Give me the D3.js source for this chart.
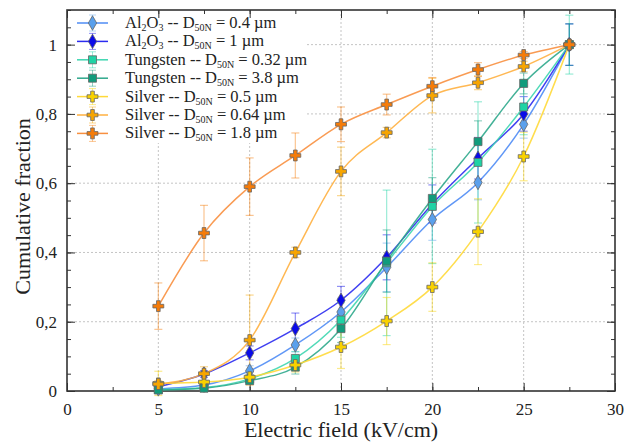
<!DOCTYPE html>
<html>
<head>
<meta charset="utf-8">
<script src="https://cdn.jsdelivr.net/npm/d3@7"></script>
<style>
  body { margin: 0; background: #fff; }
</style>
</head>
<body>
<div id="chart"></div>
<script>
// electric field steps (kV/cm)
var fields = [5, 7.5, 10, 12.5, 15, 17.5, 20, 22.5, 25, 27.5]

// cumulative fractions
var al04  = [0.006, 0.017, 0.058, 0.133, 0.228, 0.357, 0.495, 0.602, 0.770, 1]
var al1   = [0.012, 0.049, 0.110, 0.180, 0.262, 0.386, 0.540, 0.672, 0.800, 1]
var w032  = [0.004, 0.010, 0.035, 0.094, 0.205, 0.370, 0.533, 0.660, 0.820, 1]
var w38   = [0.003, 0.008, 0.030, 0.069, 0.180, 0.375, 0.556, 0.720, 0.888, 1]
var ag05  = [0.022, 0.026, 0.040, 0.075, 0.127, 0.202, 0.300, 0.460, 0.677, 1]
var ag064 = [0.020, 0.050, 0.147, 0.400, 0.634, 0.746, 0.853, 0.890, 0.937, 1]
var ag18  = [0.245, 0.456, 0.590, 0.680, 0.770, 0.827, 0.880, 0.928, 0.970, 1]

// error bar half widths
var al04Err  = [0.005, 0.010, 0.015, 0.020, 0.040, 0.070, 0.060, 0.050, 0.040, 0.060]
var al1Err   = [0.005, 0.010, 0.020, 0.045, 0.040, 0.065, 0.055, 0.060, 0.050, 0.060]
var w032Err  = [0.005, 0.005, 0.010, 0.020, 0.050, 0.210, 0.165, 0.175, 0.080, 0.085]
var w38Err   = [0.005, 0.005, 0.010, 0.020, 0.040, 0.090, 0.060, 0.060, 0.030, 0.060]
var ag05Err  = [0.035, 0.020, 0.015, 0.020, 0.062, 0.068, 0.070, 0.095, 0.070, 0.000]
var ag064Err = [0.010, 0.020, 0.130, 0.015, 0.070, 0.015, 0.050, 0.020, 0.015, 0.000]
var ag18Err  = [0.067, 0.080, 0.083, 0.065, 0.050, 0.030, 0.025, 0.020, 0.010, 0.000]

var names = [
  ["Al", "2", "O", "3", " -- D", "50N", " = 0.4 µm"],
  ["Al", "2", "O", "3", " -- D", "50N", " = 1 µm"],
  ["Tungsten -- D", "50N", " = 0.32 µm"],
  ["Tungsten -- D", "50N", " = 3.8 µm"],
  ["Silver -- D", "50N", " = 0.5 µm"],
  ["Silver -- D", "50N", " = 0.64 µm"],
  ["Silver -- D", "50N", " = 1.8 µm"]
]
var xTicks = [0, 5, 10, 15, 20, 25, 30]
var yTicks = [0, 0.2, 0.4, 0.6, 0.8, 1]

var series = [
  {name: names[0], values: al04,  err: al04Err,  color: "#5aa0ec", line: "#4f8cf5", shape: d3.symbolDiamond},
  {name: names[1], values: al1,   err: al1Err,   color: "#0a0ae8", line: "#2b2bf0", shape: d3.symbolDiamond},
  {name: names[2], values: w032,  err: w032Err,  color: "#1fd3a5", line: "#3ed6b0", shape: d3.symbolSquare},
  {name: names[3], values: w38,   err: w38Err,   color: "#119c7c", line: "#2fa88c", shape: d3.symbolSquare},
  {name: names[4], values: ag05,  err: ag05Err,  color: "#f9d200", line: "#ffd93a", shape: d3.symbolCross},
  {name: names[5], values: ag064, err: ag064Err, color: "#f7a500", line: "#ffb040", shape: d3.symbolCross},
  {name: names[6], values: ag18,  err: ag18Err,  color: "#f57c0a", line: "#f89040", shape: d3.symbolCross}
]

var FONT = "'Liberation Serif', 'Times New Roman', Times, serif"
var W = 635, H = 444
var padLeft = 67, padTop = 10, width = 548, height = 381

var x = d3.scaleLinear().domain([0, 30]).range([0, width])
var y = d3.scaleLinear().domain([0, 1.1]).range([height, 0])

function markerSize(shape) {
  return shape === d3.symbolCross ? 66 : shape === d3.symbolSquare ? 64 : 60
}

var svg = d3.select("#chart").append("svg")
    .attr("width", W)
    .attr("height", H)

var g = svg.append("g").attr("transform", "translate(" + padLeft + "," + padTop + ")")

// grid
g.selectAll(".gx").data(xTicks.slice(1, -1)).enter().append("line")
    .attr("x1", function(d) { return x(d) }).attr("x2", function(d) { return x(d) })
    .attr("y1", 0).attr("y2", height)
    .attr("stroke", "#c4c4c4").attr("stroke-dasharray", "2,2").attr("stroke-width", 1)
g.selectAll(".gy").data(yTicks.slice(1)).enter().append("line")
    .attr("y1", function(d) { return y(d) }).attr("y2", function(d) { return y(d) })
    .attr("x1", 0).attr("x2", width)
    .attr("stroke", "#c4c4c4").attr("stroke-dasharray", "2,2").attr("stroke-width", 1)

// legend background sits over the grid
g.append("rect").attr("x", 2).attr("y", 2).attr("width", 236).attr("height", 131).attr("fill", "#fff")

// axes with inward ticks on all four sides
var fmt = function(d) { return d === 0 || d === 1 ? String(d) : d3.format(".1f")(d).replace(".", ",") }
var xMinor = d3.range(0, 30.01, 2.5)
var yMinor = d3.range(0, 1.101, 0.05)

g.append("g").attr("transform", "translate(0," + height + ")")
    .call(d3.axisBottom(x).tickValues(xMinor).tickSize(-4).tickFormat(""))
g.append("g")
    .call(d3.axisTop(x).tickValues(xMinor).tickSize(-4).tickFormat(""))
g.append("g").attr("transform", "translate(0," + height + ")")
    .call(d3.axisBottom(x).tickValues(xTicks).tickSize(-8).tickPadding(12).tickFormat(d3.format("d")))
g.append("g")
    .call(d3.axisTop(x).tickValues(xTicks).tickSize(-8).tickFormat(""))
g.append("g")
    .call(d3.axisLeft(y).tickValues(yMinor).tickSize(-4).tickFormat(""))
g.append("g").attr("transform", "translate(" + width + ",0)")
    .call(d3.axisRight(y).tickValues(yMinor).tickSize(-4).tickFormat(""))
g.append("g")
    .call(d3.axisLeft(y).tickValues(yTicks).tickSize(-8).tickPadding(10).tickFormat(fmt))
g.append("g").attr("transform", "translate(" + width + ",0)")
    .call(d3.axisRight(y).tickValues(yTicks).tickSize(-8).tickFormat(""))

g.selectAll(".domain").remove()
g.selectAll(".tick line").attr("stroke", "#333").attr("stroke-width", 1)
g.selectAll(".tick text").attr("font-size", 17).attr("fill", "#222")

g.append("rect").attr("width", width).attr("height", height)
    .attr("fill", "none").attr("stroke", "#333").attr("stroke-width", 1.6)

// series: error bars, lines, markers
var line = d3.line()
    .x(function(d) { return x(d[0]) })
    .y(function(d) { return y(d[1]) })
    .curve(d3.curveMonotoneX)

series.forEach(function(s) {
  var pts = fields.map(function(f, i) { return [f, s.values[i], s.err[i]] })
  var eb = g.append("g").attr("stroke", s.color).attr("stroke-opacity", 0.45).attr("stroke-width", 1.2)
  pts.filter(function(d) { return d[2] > 0 }).forEach(function(d) {
    var cx = x(d[0]), y0 = y(d[1] - d[2]), y1 = y(d[1] + d[2])
    eb.append("line").attr("x1", cx).attr("x2", cx).attr("y1", y0).attr("y2", y1)
    eb.append("line").attr("x1", cx - 4).attr("x2", cx + 4).attr("y1", y0).attr("y2", y0)
    eb.append("line").attr("x1", cx - 4).attr("x2", cx + 4).attr("y1", y1).attr("y2", y1)
  })
  g.append("path").datum(pts).attr("d", line)
      .attr("fill", "none").attr("stroke", s.line).attr("stroke-width", 1.5).attr("stroke-opacity", 0.9)
})

series.forEach(function(s) {
  var sym = d3.symbol().type(s.shape).size(markerSize(s.shape))
  g.selectAll(null).data(fields).enter().append("path")
      .attr("d", sym)
      .attr("transform", function(d, i) { return "translate(" + x(d) + "," + y(s.values[i]) + ")" })
      .attr("fill", s.color).attr("stroke", "#666").attr("stroke-width", 0.8)
})

// legend
var lg = g.append("g")
series.forEach(function(s, i) {
  var ly = 13 + i * 18.4
  var row = lg.append("g").attr("transform", "translate(0," + ly + ")")
  row.append("line").attr("x1", 10).attr("x2", 41).attr("stroke", s.line).attr("stroke-width", 1.5)
  row.append("line").attr("x1", 25.5).attr("x2", 25.5).attr("y1", -8).attr("y2", 8)
      .attr("stroke", s.color).attr("stroke-opacity", 0.45)
  row.append("line").attr("x1", 22).attr("x2", 29).attr("y1", -8).attr("y2", -8)
      .attr("stroke", s.color).attr("stroke-opacity", 0.45)
  row.append("line").attr("x1", 22).attr("x2", 29).attr("y1", 8).attr("y2", 8)
      .attr("stroke", s.color).attr("stroke-opacity", 0.45)
  var sym = d3.symbol().type(s.shape).size(markerSize(s.shape))
  row.append("path").attr("d", sym).attr("transform", "translate(25.5,0)")
      .attr("fill", s.color).attr("stroke", "#666").attr("stroke-width", 0.8)
  var t = row.append("text").attr("x", 58).attr("y", 5).attr("font-size", 16.5)
  s.name.forEach(function(part, k) {
    var isSub = part === "2" || part === "3" || part === "50N"
    t.append("tspan").text(part)
        .attr("font-size", isSub ? 10 : 16.5)
        .attr("dy", isSub ? 3 : (k > 0 ? -3 : 0))
  })
})

// axis titles
svg.append("text").attr("x", padLeft + width / 2).attr("y", 437)
    .attr("text-anchor", "middle").attr("font-size", 22).text("Electric field (kV/cm)")
svg.append("text").attr("transform", "translate(30," + (padTop + height / 2 + 6) + ") rotate(-90)")
    .attr("text-anchor", "middle").attr("font-size", 22).text("Cumulative fraction")

// serif everywhere, as in the original figure
svg.selectAll("text").attr("font-family", null).style("font-family", FONT).style("fill", "#222")
svg.selectAll("g").attr("font-family", null)
</script>
</body>
</html>
